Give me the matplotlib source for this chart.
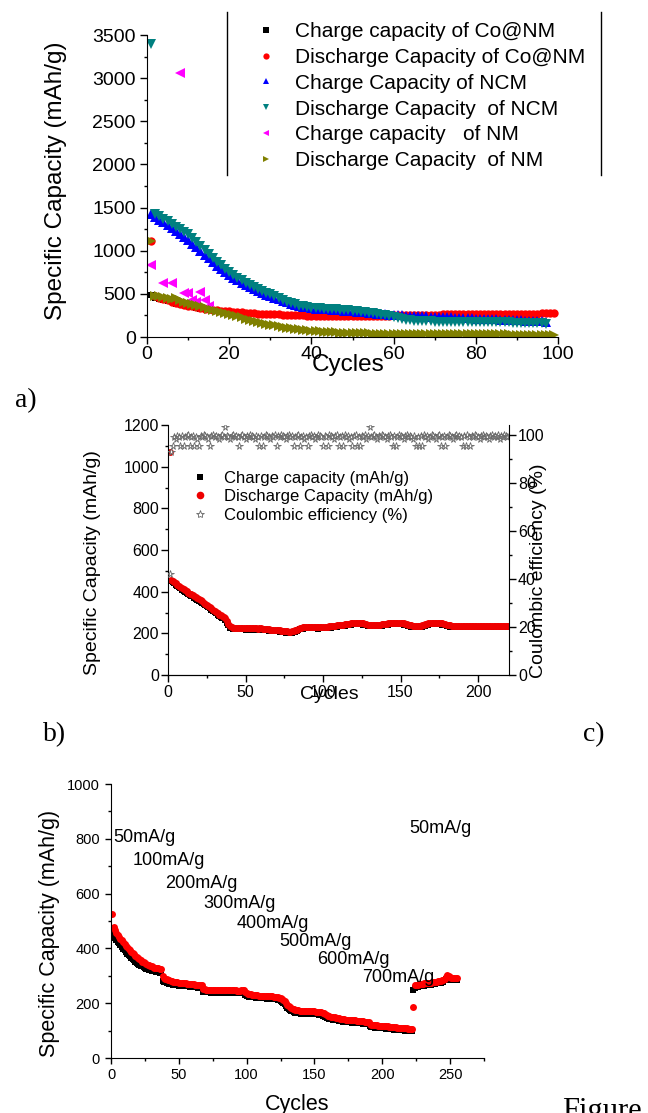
import matplotlib
matplotlib.use('Agg')
import matplotlib.pyplot as plt
from matplotlib.ticker import MultipleLocator

plt.rcParams['font.family'] = ['Liberation Sans', 'DejaVu Sans']
SERIF = ['Liberation Serif', 'DejaVu Serif']

# ---------------- panel a: four electrodes, 100 cycles ----------------
cycles_a = list(range(1, 100))
cycles_ncm = list(range(1, 98))

co_charge = [
    487,
    455, 442, 428, 414, 400, 388, 377, 366, 356,
    347, 338, 330, 322, 315, 309, 303, 298, 293, 289,
    285, 281, 277, 274, 271, 268, 265, 263, 261, 259,
    257, 255, 253, 251, 249, 247, 245, 243, 241, 239,
    238, 237, 236, 235, 235, 234, 234, 233, 233, 233,
    234, 235, 236, 237, 238, 239, 240, 241, 242, 243,
    244, 245, 246, 247, 248, 249, 250, 251, 252, 253,
    253, 254, 254, 255, 255, 256, 256, 257, 257, 258,
    258, 259, 259, 260, 260, 261, 261, 262, 262, 263,
    263, 264, 264, 265, 265, 266, 267, 268, 269,
]
co_discharge = [
    1110,
    470, 455, 440, 425, 410, 398, 386, 375, 365,
    355, 346, 338, 330, 322, 316, 310, 305, 300, 296,
    292, 288, 284, 281, 278, 275, 272, 270, 268, 266,
    264, 262, 260, 258, 256, 254, 252, 250, 248, 246,
    245, 244, 243, 242, 242, 241, 241, 240, 240, 240,
    241, 242, 243, 244, 245, 246, 247, 248, 249, 250,
    251, 252, 253, 254, 255, 256, 257, 258, 259, 260,
    260, 261, 261, 262, 262, 263, 263, 264, 264, 265,
    265, 266, 266, 267, 267, 268, 268, 269, 269, 270,
    270, 271, 271, 272, 272, 273, 274, 275, 276,
]
ncm_charge = [
    1420,
    1390, 1360, 1330, 1295, 1260, 1225, 1190, 1155, 1120,
    1080, 1040, 1000, 955, 910, 865, 825, 785, 750, 715,
    685, 655, 628, 602, 578, 555, 532, 512, 492, 473,
    455, 437, 420, 403, 387, 372, 360, 350, 342, 335,
    330, 326, 323, 320, 317, 314, 310, 306, 302, 298,
    294, 290, 286, 281, 276, 271, 266, 262, 258, 255,
    252, 250, 248, 246, 244, 242, 240, 238, 236, 234,
    232, 230, 228, 226, 224, 222, 220, 218, 216, 214,
    212, 210, 208, 206, 204, 202, 200, 198, 196, 194,
    192, 190, 188, 186, 183, 180, 176,
]
ncm_discharge = [
    3400,
    1420, 1400, 1370, 1340, 1310, 1280, 1250, 1220, 1190,
    1150, 1100, 1060, 1010, 960, 910, 870, 830, 790, 750,
    715, 685, 655, 630, 605, 580, 555, 535, 515, 495,
    470, 448, 428, 410, 393, 378, 365, 355, 347, 340,
    335, 331, 328, 325, 322, 319, 316, 312, 308, 304,
    300, 295, 290, 283, 276, 268, 260, 250, 240, 228,
    215, 205, 198, 192, 188, 185, 183, 181, 180, 179,
    178, 178, 177, 177, 176, 176, 175, 175, 174, 174,
    173, 173, 172, 172, 171, 170, 170, 169, 168, 167,
    166, 165, 164, 162, 160, 158, 155,
]
nm_charge_cycles = [1, 4, 6, 8, 9, 10, 11, 12, 13, 14, 15]
nm_charge = [840, 630, 625, 3060, 515, 505, 430, 410, 520, 430, 360]
nm_discharge = [
    1110,
    480, 470, 460, 450, 445, 450, 430, 410, 395,
    385, 372, 358, 344, 330, 316, 302, 290, 277, 265,
    252, 239, 226, 213, 200, 188, 176, 165, 154, 144,
    134, 125, 117, 110, 103, 96, 90, 84, 79, 74,
    70, 66, 62, 59, 56, 53, 51, 49, 47, 45,
    44, 43, 42, 41, 40, 39, 38, 37, 36, 35,
    35, 35, 34, 34, 34, 33, 33, 33, 32, 32,
    32, 32, 31, 31, 31, 31, 30, 30, 30, 30,
    30, 30, 30, 29, 29, 29, 29, 29, 28, 28,
    28, 28, 28, 28, 27, 27, 27, 27, 27,
]
labels_a = ['Charge capacity of Co@NM', 'Discharge Capacity of Co@NM',
            'Charge Capacity of NCM', 'Discharge Capacity  of NCM',
            'Charge capacity   of NM', 'Discharge Capacity  of NM']

# ---------------- panel b: long cycling ----------------
cycles_b = list(range(1, 221))
b_charge = [
    450, 452, 446, 440, 434, 428, 422, 416, 410, 405,
    400, 395, 390, 385, 381, 377, 372, 367, 362, 357,
    352, 347, 341, 335, 330, 325, 320, 314, 308, 302,
    296, 290, 284, 280, 276, 272, 266, 252, 238, 228,
    224, 222, 221, 220, 220, 219, 219, 220, 219, 218,
    219, 220, 218, 219, 220, 219, 218, 217, 219, 218,
    216, 217, 215, 214, 213, 212, 212, 211, 210, 210,
    209, 208, 207, 206, 205, 204, 203, 202, 202, 203,
    205, 208, 212, 216, 219, 221, 223, 224, 225, 226,
    226, 225, 224, 224, 225, 224, 223, 224, 225, 224,
    224, 225, 226, 227, 228, 229, 230, 231, 232, 233,
    234, 235, 236, 237, 239, 240, 241, 242, 243, 244,
    245, 245, 244, 244, 243, 242, 240, 238, 236, 235,
    234, 234, 234, 234, 234, 235, 236, 237, 239, 240,
    241, 242, 243, 244, 244, 245, 245, 244, 244, 244,
    243, 242, 240, 238, 236, 234, 232, 231, 230, 229,
    229, 229, 230, 232, 234, 237, 240, 242, 243, 244,
    244, 245, 245, 244, 244, 243, 242, 240, 238, 236,
    234, 232, 231, 230, 229, 229, 229, 229, 230, 230,
    230, 229, 229, 230, 230, 229, 229, 230, 230, 230,
    230, 230, 229, 230, 230, 230, 229, 230, 230, 230,
    230, 229, 230, 230, 230, 229, 230, 230, 230, 230,
]
b_discharge = [
    1070, 458, 452, 446, 440, 434, 428, 422, 416, 411,
    406, 401, 396, 391, 387, 383, 378, 373, 368, 363,
    358, 353, 347, 341, 336, 331, 326, 320, 314, 308,
    302, 296, 290, 286, 282, 278, 272, 258, 244, 234,
    230, 228, 227, 226, 226, 225, 225, 226, 225, 224,
    225, 226, 224, 225, 226, 225, 224, 223, 225, 224,
    222, 223, 221, 220, 219, 218, 218, 217, 216, 216,
    215, 214, 213, 212, 211, 210, 209, 208, 208, 209,
    211, 214, 218, 222, 225, 227, 229, 230, 231, 232,
    232, 231, 230, 230, 231, 230, 229, 230, 231, 230,
    230, 231, 232, 233, 234, 235, 236, 237, 238, 239,
    240, 241, 242, 243, 245, 246, 247, 248, 249, 250,
    251, 251, 250, 250, 249, 248, 246, 244, 242, 241,
    240, 240, 240, 240, 240, 241, 242, 243, 245, 246,
    247, 248, 249, 250, 250, 251, 251, 250, 250, 250,
    249, 248, 246, 244, 242, 240, 238, 237, 236, 235,
    235, 235, 236, 238, 240, 243, 246, 248, 249, 250,
    250, 251, 251, 250, 250, 249, 248, 246, 244, 242,
    240, 238, 237, 236, 235, 235, 235, 235, 236, 236,
    236, 235, 235, 236, 236, 235, 235, 236, 236, 236,
    236, 236, 235, 236, 236, 236, 235, 236, 236, 236,
    236, 235, 236, 236, 236, 235, 236, 236, 236, 236,
]
b_efficiency = [
    42, 93, 95.5, 99, 98.5, 99.5, 99, 95.5, 99.5, 95.5,
    99, 99.5, 100, 95.5, 99, 99.5, 95.5, 99, 98.5, 95.5,
    99.5, 99, 100, 99.5, 99, 98.5, 95.5, 99.5, 100, 99,
    99.5, 99, 98.5, 99.5, 100, 99, 103.5, 99.5, 99, 98.5,
    99.5, 100, 99, 99.5, 99, 95.5, 99.5, 100, 99, 98.5,
    99.5, 99, 100, 99.5, 99, 98.5, 99.5, 99, 95.5, 99.5,
    95.5, 99, 100, 99.5, 99, 98.5, 99.5, 99, 100, 95.5,
    99.5, 99, 100, 99.5, 99, 98.5, 99.5, 100, 99, 99.5,
    95.5, 99, 99.5, 100, 95.5, 99, 99.5, 98.5, 99, 95.5,
    99.5, 100, 99, 99.5, 98.5, 99, 100, 99.5, 99, 95.5,
    99.5, 99, 95.5, 100, 99.5, 99, 98.5, 99.5, 100, 95.5,
    99, 99.5, 95.5, 100, 99, 99.5, 98.5, 99, 95.5, 99.5,
    100, 95.5, 99, 95.5, 99.5, 99, 100, 98.5, 99.5, 103.5,
    99, 99.5, 100, 99, 98.5, 99.5, 99, 100, 99.5, 99,
    98.5, 99.5, 100, 99, 95.5, 99.5, 95.5, 99, 100, 99.5,
    99, 98.5, 99.5, 100, 99, 99.5, 99, 98.5, 99.5, 95.5,
    99, 95.5, 99.5, 95.5, 100, 99, 99.5, 98.5, 99, 100,
    99.5, 99, 98.5, 99.5, 100, 95.5, 99, 99.5, 95.5, 99,
    100, 99.5, 99, 98.5, 99.5, 100, 99, 99.5, 99, 95.5,
    99.5, 95.5, 100, 99, 95.5, 99.5, 99, 100, 99.5, 99,
    98.5, 99.5, 100, 99, 99.5, 99, 98.5, 99.5, 100, 99,
    99.5, 99, 100, 98.5, 99.5, 99, 100, 99.5, 99, 99.5,
]
labels_b = ['Charge capacity (mAh/g)', 'Discharge Capacity (mAh/g)',
            'Coulombic efficiency (%)']

# ---------------- panel c: rate capability ----------------
cycles_c = list(range(1, 256))
c_charge = [
    455, 445, 438, 432, 425, 418, 411, 405, 399, 393,
    387, 381, 376, 371, 366, 361, 356, 352, 348, 344,
    340, 337, 334, 331, 328, 326, 324, 322, 320, 318,
    317, 316, 315, 314, 313, 312, 310, 282, 278, 276,
    274, 272, 271, 270, 269, 268, 267, 266, 265, 264,
    264, 263, 263, 262, 262, 261, 261, 260, 260, 259,
    259, 258, 258, 257, 257, 256, 255, 242, 241, 241,
    240, 240, 240, 239, 239, 239, 239, 239, 239, 239,
    239, 239, 239, 238, 238, 238, 238, 238, 238, 238,
    238, 238, 237, 237, 237, 238, 238, 238, 230, 227,
    225, 224, 223, 222, 221, 221, 220, 220, 219, 219,
    219, 218, 218, 218, 217, 217, 217, 216, 216, 215,
    215, 214, 213, 211, 209, 206, 202, 197, 190, 183,
    178, 175, 172, 170, 168, 166, 165, 164, 163, 162,
    162, 162, 161, 161, 161, 160, 160, 160, 160, 160,
    159, 159, 158, 158, 157, 155, 153, 150, 147, 145,
    143, 142, 141, 140, 139, 138, 137, 136, 135, 134,
    133, 132, 132, 131, 131, 130, 130, 129, 129, 128,
    128, 127, 127, 126, 126, 125, 125, 124, 124, 123,
    116, 114, 113, 112, 111, 111, 110, 110, 109, 109,
    108, 108, 107, 107, 106, 106, 105, 105, 104, 104,
    103, 103, 102, 102, 101, 101, 100, 100, 99, 99,
    98, 97, 250, 255, 258, 260, 261, 262, 263, 264,
    264, 265, 266, 267, 268, 268, 269, 270, 271, 272,
    273, 274, 275, 277, 279, 283, 288, 293, 292, 288,
    286, 285, 285, 285, 286,
]
c_discharge = [
    525, 478, 468, 458, 450, 443, 436, 429, 422, 416,
    410, 404, 398, 393, 388, 383, 378, 373, 368, 364,
    360, 356, 352, 349, 346, 343, 340, 338, 336, 334,
    332, 330, 329, 328, 327, 326, 325, 298, 292, 289,
    287, 285, 283, 281, 280, 279, 278, 277, 276, 275,
    274, 274, 273, 272, 272, 271, 271, 270, 270, 269,
    269, 268, 268, 267, 267, 266, 266, 252, 251, 250,
    250, 249, 249, 249, 248, 248, 248, 248, 248, 248,
    248, 248, 248, 247, 247, 247, 247, 247, 247, 247,
    247, 247, 246, 246, 246, 247, 248, 249, 240, 236,
    234, 233, 232, 231, 230, 230, 229, 229, 228, 228,
    228, 227, 227, 227, 226, 226, 226, 225, 225, 224,
    224, 223, 222, 220, 218, 215, 212, 207, 200, 193,
    188, 185, 182, 180, 178, 176, 175, 174, 173, 172,
    172, 172, 171, 171, 171, 170, 170, 170, 170, 170,
    169, 169, 168, 168, 167, 165, 163, 160, 157, 155,
    153, 151, 150, 149, 148, 147, 146, 145, 144, 143,
    142, 141, 140, 140, 139, 139, 138, 138, 137, 137,
    136, 136, 135, 135, 134, 134, 133, 133, 132, 131,
    125, 122, 121, 120, 119, 119, 118, 118, 117, 117,
    116, 116, 115, 115, 114, 114, 113, 113, 112, 112,
    111, 111, 110, 110, 109, 109, 108, 108, 107, 107,
    106, 105, 186, 266, 268, 268, 269, 270, 270, 271,
    272, 272, 273, 274, 275, 275, 276, 277, 278, 279,
    280, 281, 282, 284, 286, 290, 296, 302, 298, 294,
    292, 292, 291, 292, 293,
]
rate_labels = ['50mA/g', '100mA/g', '200mA/g', '300mA/g', '400mA/g',
               '500mA/g', '600mA/g', '700mA/g', '50mA/g']
# where each rate label sits (left edge cycle, centre capacity)
rate_label_pos = [(1.5, 806), (16, 722), (40, 638), (68, 565), (92.6, 492),
                  (124, 424), (152, 358), (185, 292), (220, 839)]

W, H = 648, 1113


def axes_px(left, top, right, bottom):
    return [left / W, 1 - bottom / H, (right - left) / W, (bottom - top) / H]


def style_ticks(ax, size, length, xpad, ypad):
    ax.tick_params(which='both', direction='out', width=1, labelsize=size)
    ax.tick_params(which='major', length=length)
    ax.tick_params(which='minor', length=length * 0.5)
    ax.tick_params(axis='x', pad=xpad)
    ax.tick_params(axis='y', pad=ypad)


fig = plt.figure(figsize=(W / 100, H / 100), dpi=100)

# ---- panel a ----
ax1 = fig.add_axes(axes_px(147, 35, 558, 337))
h = []
h += ax1.plot(cycles_a, co_charge, 's', color='black', ms=5, mew=0)
h += ax1.plot(cycles_a, co_discharge, 'o', color='red', ms=6, mew=0)
h += ax1.plot(cycles_ncm, ncm_charge, '^', color='blue', ms=6.5, mew=0)
h += ax1.plot(cycles_ncm, ncm_discharge, 'v', color='#008080', ms=6.5, mew=0)
h += ax1.plot(nm_charge_cycles, nm_charge, '<', color='#ff00ff', ms=6.5, mew=0)
h += ax1.plot(cycles_a, nm_discharge, '>', color='#808000', ms=6.5, mew=0)
ax1.set_xlim(0, 100)
ax1.set_ylim(0, 3500)
ax1.xaxis.set_major_locator(MultipleLocator(20))
ax1.xaxis.set_minor_locator(MultipleLocator(10))
ax1.yaxis.set_major_locator(MultipleLocator(500))
ax1.yaxis.set_minor_locator(MultipleLocator(250))
for s in ('top', 'right'):
    ax1.spines[s].set_visible(False)
style_ticks(ax1, 14, 5, 1.5, 3)
ax1.set_xlabel('Cycles', fontsize=17.5)
ax1.xaxis.set_label_coords(0.489, -0.056)
ax1.set_ylabel('Specific Capacity (mAh/g)', fontsize=17.5)
ax1.yaxis.set_label_coords(-0.195, 0.517)
fig.legend(h, labels_a, loc='upper left', bbox_to_anchor=(256 / W, 1 - 22 / H),
           frameon=False, fontsize=15, handlelength=1.0, handletextpad=0.85,
           labelspacing=0.33, borderpad=0, borderaxespad=0, markerscale=0.75)
for xl in (227, 601):
    fig.add_artist(plt.Line2D([xl / W, xl / W], [1 - 12 / H, 1 - 175 / H],
                              color='black', lw=1, transform=fig.transFigure))
fig.text(15 / W, 1 - 401 / H, 'a)', family=SERIF, fontsize=20, va='center')

# ---- panel b ----
ax2 = fig.add_axes(axes_px(168, 425, 509, 675))
hb = []
hb += ax2.plot(cycles_b, b_charge, 's', color='black', ms=4.5, mew=0)
hb += ax2.plot(cycles_b, b_discharge, 'o', color='#ee0000', ms=5, mew=0)
ax2.set_xlim(0, 220)
ax2.set_ylim(0, 1200)
ax2.xaxis.set_major_locator(MultipleLocator(50))
ax2.xaxis.set_minor_locator(MultipleLocator(25))
ax2.yaxis.set_major_locator(MultipleLocator(200))
ax2.yaxis.set_minor_locator(MultipleLocator(100))
ax2.spines['top'].set_visible(False)
ax2.spines['right'].set_visible(False)
style_ticks(ax2, 11.5, 5, 2, 1.5)
ax2.set_xlabel('Cycles', fontsize=14)
ax2.xaxis.set_label_coords(0.472, -0.044)
ax2.set_ylabel('Specific Capacity (mAh/g)', fontsize=14)
ax2.yaxis.set_label_coords(-0.196, 0.448)

ax2r = ax2.twinx()
hb += ax2r.plot(cycles_b, b_efficiency, '*', ms=5.5, mfc='white',
                mec='#666666', mew=0.6)
ax2r.set_ylim(0, 104.2)
ax2r.yaxis.set_major_locator(MultipleLocator(20))
ax2r.yaxis.set_minor_locator(MultipleLocator(10))
ax2r.spines['top'].set_visible(False)
ax2r.spines['left'].set_visible(False)
style_ticks(ax2r, 11.5, 5, 2, 1.5)
ax2r.set_ylabel('Coulombic efficiency (%)', fontsize=14)
ax2r.yaxis.set_label_coords(1.062, 0.416)
fig.legend(hb, labels_b, loc='upper left', bbox_to_anchor=(192 / W, 1 - 471 / H),
           frameon=False, fontsize=12, handlelength=1.0, handletextpad=0.9,
           labelspacing=0.2, borderpad=0, borderaxespad=0, markerscale=1.1)
fig.text(43 / W, 1 - 735 / H, 'b)', family=SERIF, fontsize=20, va='center')
fig.text(583 / W, 1 - 735 / H, 'c)', family=SERIF, fontsize=20, va='center')

# ---- panel c ----
ax3 = fig.add_axes(axes_px(111, 784, 484, 1058))
ax3.plot(cycles_c, c_charge, 's', color='black', ms=4.5, mew=0)
ax3.plot(cycles_c, c_discharge, 'o', color='red', ms=5, mew=0)
ax3.set_xlim(0, 275)
ax3.set_ylim(0, 1000)
ax3.xaxis.set_major_locator(MultipleLocator(50))
ax3.xaxis.set_minor_locator(MultipleLocator(25))
ax3.yaxis.set_major_locator(MultipleLocator(200))
ax3.yaxis.set_minor_locator(MultipleLocator(100))
for s in ('top', 'right'):
    ax3.spines[s].set_visible(False)
style_ticks(ax3, 10.5, 4.5, 3, 3.5)
ax3.set_xlabel('Cycles', fontsize=15.5)
ax3.xaxis.set_label_coords(0.5, -0.131)
ax3.set_ylabel('Specific Capacity (mAh/g)', fontsize=15.5)
ax3.yaxis.set_label_coords(-0.137, 0.453)
for txt, (x, y) in zip(rate_labels, rate_label_pos):
    ax3.text(x, y, txt, fontsize=13, ha='left', va='center')

fig.text(562 / W, 1 - 1097 / H, 'Figure', family=SERIF, fontsize=22, va='top')

fig.savefig('out.png', dpi=100)
